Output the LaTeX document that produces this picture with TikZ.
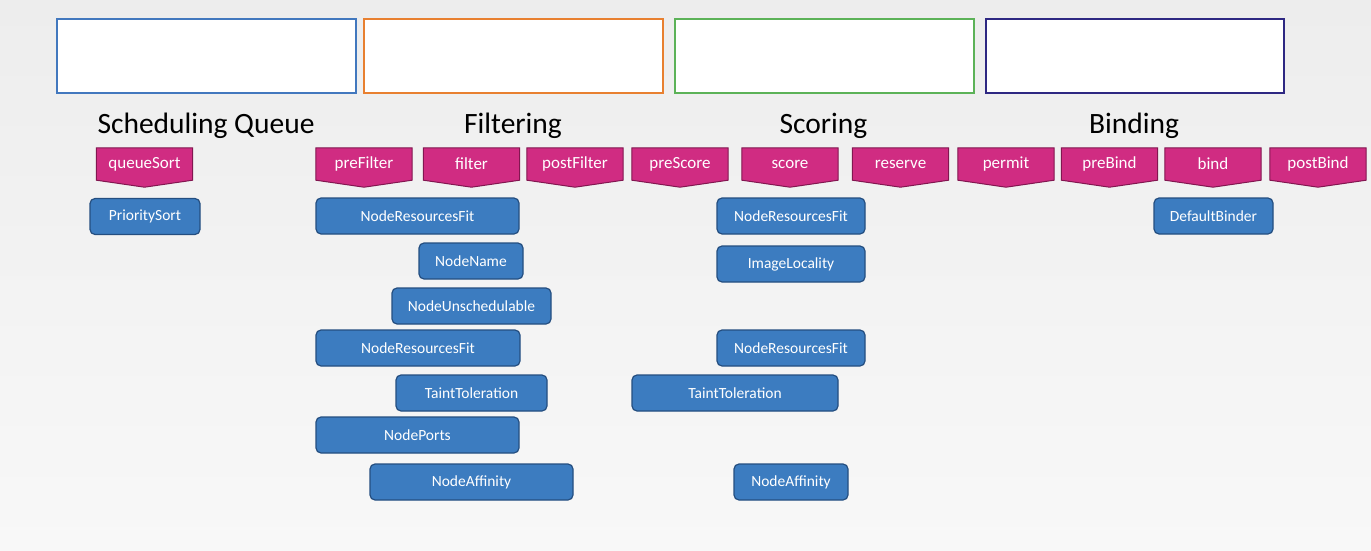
\documentclass[tikz,border=0pt]{standalone}
\usepackage{fontspec}
\setmainfont{Carlito}
\usetikzlibrary{calc}
\definecolor{bgtop}{RGB}{237,237,237}
\definecolor{bgbot}{RGB}{248,248,248}
\definecolor{qblue}{RGB}{66,120,190}
\definecolor{forange}{RGB}{232,128,48}
\definecolor{sgreen}{RGB}{92,178,88}
\definecolor{bpurple}{RGB}{46,40,130}
\definecolor{stagefill}{RGB}{208,44,130}
\definecolor{stageline}{RGB}{130,22,80}
\definecolor{plugfill}{RGB}{60,124,192}
\definecolor{plugline}{RGB}{36,78,128}
\pgfdeclarelayer{back}
\pgfdeclarelayer{shapes}
\pgfsetlayers{back,shapes,main}
\tikzset{
  phasebox/.style={draw=#1, line width=2pt, fill=white},
  phasetitle/.style={font=\fontsize{29.5}{34}\selectfont, text=black, inner sep=0pt, anchor=base},
  stagebox/.style={minimum width=96pt, minimum height=32pt, inner sep=0pt,
    text=white, font=\fontsize{17}{20}\selectfont},
  stageshape/.style={fill=stagefill, draw=stageline, line width=1pt},
  plugin/.style={rectangle, rounded corners=5pt, fill=plugfill, draw=plugline,
    line width=1.2pt, minimum height=36pt, inner sep=0pt, text=white,
    font=\fontsize{15.5}{18}\selectfont},
}
\begin{document}
\begin{tikzpicture}[x=1pt, y=-1pt]
\useasboundingbox (0,0) rectangle (1371,551);
\begin{pgfonlayer}{back}
  \shade[top color=bgtop, bottom color=bgbot] (0,0) rectangle (1371,551);
\end{pgfonlayer}

% phase frames
\draw[phasebox=qblue]   (57,19)  rectangle (356,93);
\draw[phasebox=forange] (364,19) rectangle (663,93);
\draw[phasebox=sgreen]  (675,19) rectangle (974,93);
\draw[phasebox=bpurple] (986,19) rectangle (1284,93);

% phase titles
\node[phasetitle] (tq) at (206,133) {Scheduling Queue};
\node[phasetitle] (tf) at (513,133) {Filtering};
\node[phasetitle] (ts) at (823.5,133) {Scoring};
\node[phasetitle] (tb) at (1134,133) {Binding};

% extension points
\foreach \n/\x/\t in {qs/144.5/queueSort, pf/364/preFilter, fi/471.5/filter,
    pof/575/postFilter, psc/680/preScore, sc/790/score, rs/900.5/reserve,
    pm/1006/permit, pb/1109.5/preBind, bi/1213/bind, pob/1318/postBind} {
  \node[stagebox] (\n) at (\x,164) {\t};
  \begin{pgfonlayer}{shapes}
    \draw[stageshape] (\n.north west) -- (\n.north east) -- (\n.south east)
      -- ([yshift=-7pt]\n.south) -- (\n.south west) -- cycle;
  \end{pgfonlayer}
}

% queue plugins
\node[plugin, minimum width=110pt] (ps) at (145,216.5) {PrioritySort};

% filter plugins
\node[plugin, minimum width=203pt] (f1) at (417.5,216) {NodeResourcesFit};
\node[plugin, minimum width=104pt] (f2) at (471,261) {NodeName};
\node[plugin, minimum width=159pt] (f3) at (471.5,306) {NodeUnschedulable};
\node[plugin, minimum width=204pt] (f4) at (418,348) {NodeResourcesFit};
\node[plugin, minimum width=151pt] (f5) at (471.5,393) {TaintToleration};
\node[plugin, minimum width=203pt] (f6) at (417.5,435) {NodePorts};
\node[plugin, minimum width=203pt] (f7) at (471.5,482) {NodeAffinity};

% score plugins
\node[plugin, minimum width=148pt] (s1) at (791,216) {NodeResourcesFit};
\node[plugin, minimum width=148pt] (s2) at (791,264) {ImageLocality};
\node[plugin, minimum width=148pt] (s3) at (791,348) {NodeResourcesFit};
\node[plugin, minimum width=206pt] (s4) at (735,393) {TaintToleration};
\node[plugin, minimum width=114pt] (s5) at (791,482) {NodeAffinity};

% bind plugin
\node[plugin, minimum width=119pt] (b1) at (1213.5,216) {DefaultBinder};
\end{tikzpicture}
\end{document}
